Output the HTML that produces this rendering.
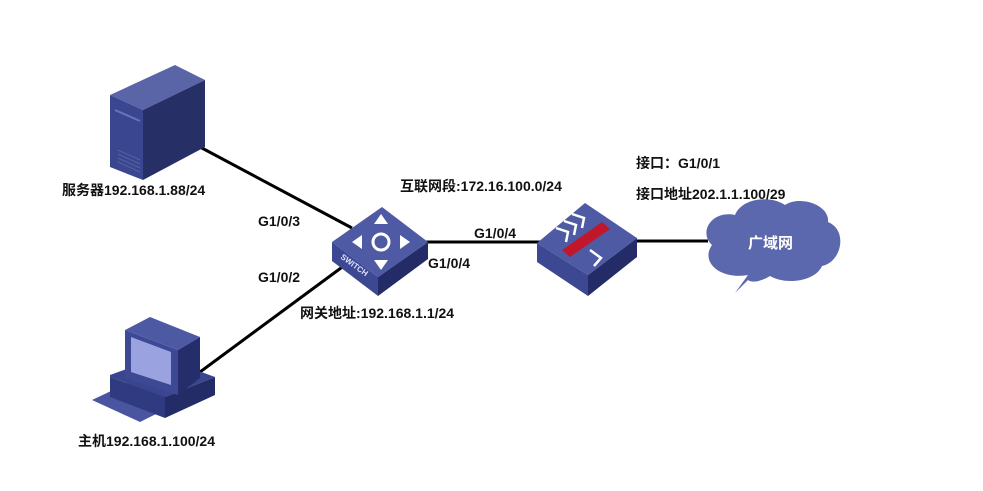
<!DOCTYPE html>
<html><head><meta charset="utf-8"><style>
html,body{margin:0;padding:0;background:#fff;width:983px;height:491px;overflow:hidden}
svg text{font-family:"Liberation Sans","Noto Sans CJK SC",sans-serif;font-weight:bold;font-size:14px;fill:#111}
</style></head><body>
<svg width="983" height="491" viewBox="0 0 983 491" xmlns="http://www.w3.org/2000/svg">
<g stroke="#000" stroke-width="3" fill="none">
<line x1="200" y1="147" x2="352" y2="228"/>
<line x1="200" y1="372" x2="345" y2="265"/>
<line x1="426" y1="242" x2="540" y2="242"/>
<line x1="635" y1="241" x2="708" y2="241"/>
</g>
<!-- server -->
<polygon points="110,95 175,65 205,80 143,110" fill="#5a65a8"/>
<polygon points="110,95 143,110 143,180 110,167" fill="#3b4690"/>
<polygon points="143,110 205,80 205,147 143,180" fill="#262f66"/>
<line x1="115" y1="110" x2="140" y2="121" stroke="#6a74b5" stroke-width="2"/>
<g stroke="#5561a0" stroke-width="1">
<line x1="118" y1="150" x2="140" y2="160"/><line x1="118" y1="154" x2="140" y2="164"/>
<line x1="118" y1="158" x2="140" y2="168"/><line x1="118" y1="162" x2="140" y2="172"/>
</g>
<!-- host -->
<polygon points="92,400 130,382 180,402 140,422" fill="#4a55a0"/>
<polygon points="110,375 160,357 215,377 165,397 110,377" fill="#3a4590"/>
<polygon points="110,377 165,397 165,418 110,397" fill="#2f3a80"/>
<polygon points="165,397 215,377 215,395 165,418" fill="#232c66"/>
<polygon points="125,330 150,317 200,337 178,350" fill="#4e59a3"/>
<polygon points="125,330 178,350 178,395 125,378" fill="#3e4996"/>
<polygon points="131,337 171,352 171,385 131,372" fill="#9aa3e0"/>
<polygon points="178,350 200,337 200,378 178,395" fill="#252e6a"/>
<!-- switch -->
<polygon points="332,242 378,277 378,296 332,261" fill="#3d4892"/>
<polygon points="378,277 428,242 428,259 378,296" fill="#232c66"/>
<polygon points="332,242 382,207 428,242 378,277" fill="#4f5aa5"/>
<circle cx="381" cy="242" r="8" fill="none" stroke="#fff" stroke-width="3"/>
<g fill="#fff"><polygon points="381,214 374,224 388,224"/><polygon points="381,270 374,260 388,260"/><polygon points="352,242 362,235 362,249"/><polygon points="410,242 400,235 400,249"/></g>
<text x="340" y="258" transform="rotate(36 340 258)" style="font-size:8px;fill:#dfe3ff">SWITCH</text>
<!-- firewall -->
<polygon points="537,243 588,275 588,296 537,262" fill="#3d4892"/>
<polygon points="588,275 637,238 637,257 588,296" fill="#232c66"/>
<polygon points="537,243 585,203 637,238 588,275" fill="#4f5aa5"/>
<g stroke="#fff" stroke-width="2.5" fill="none">
<polyline points="556,228 568,232 566,242"/><polyline points="564,221 576,225 574,235"/><polyline points="572,214 584,218 582,228"/>
<polyline points="590,250 601,258 594,266"/></g>
<polygon points="562,250 602,222 610,229 570,257" fill="#c0182a"/>
<!-- cloud -->
<path d="M735,293 L748,275 C720,280 700,262 712,245 C698,232 712,210 735,215 C742,198 770,195 785,205 C800,195 830,205 828,222 C848,230 842,262 822,266 C815,282 785,285 770,276 C760,282 752,283 748,280 Z" fill="#5b68ad"/>
<text x="748" y="248" style="fill:#fff;font-size:15px">广域网</text>
<text x="62" y="195">服务器192.168.1.88/24</text>
<text x="258" y="226">G1/0/3</text>
<text x="258" y="282">G1/0/2</text>
<text x="300" y="318">网关地址:192.168.1.1/24</text>
<text x="400" y="191">互联网段:172.16.100.0/24</text>
<text x="474" y="238">G1/0/4</text>
<text x="428" y="268">G1/0/4</text>
<text x="636" y="168">接口：G1/0/1</text>
<text x="636" y="199">接口地址202.1.1.100/29</text>
<text x="78" y="446">主机192.168.1.100/24</text>
</svg>
</body></html>
